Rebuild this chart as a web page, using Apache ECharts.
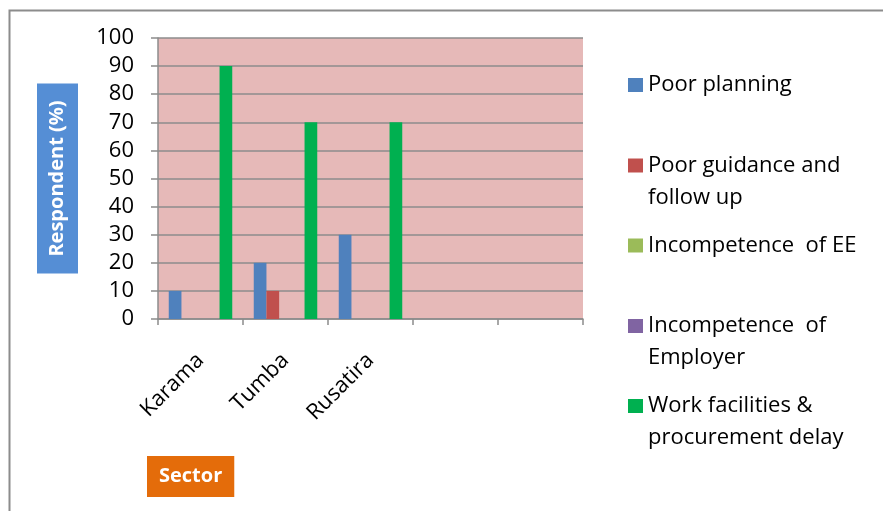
<!DOCTYPE html>
<html>
<head>
<meta charset="utf-8">
<script src="https://cdn.jsdelivr.net/npm/echarts@6/dist/echarts.min.js"></script>
<style>html,body{margin:0;padding:0;background:#fff}#c{width:883px;height:511px}</style>
</head>
<body>
<div id="c"></div>
<script>
const categories = ['Karama', 'Tumba', 'Rusatira', '', ''];
const seriesNames = ['Poor planning', 'Poor guidance and follow up', 'Incompetence  of EE', 'Incompetence  of Employer', 'Work facilities & procurement delay'];
const poorPlanning = [10, 20, 30, 0, 0];
const poorGuidance = [0, 10, 0, 0, 0];
const incompetenceEE = [0, 0, 0, 0, 0];
const incompetenceEmployer = [0, 0, 0, 0, 0];
const workFacilities = [90, 70, 70, 0, 0];
const yTicks = [0, 10, 20, 30, 40, 50, 60, 70, 80, 90, 100];
const legendLines = {
  'Poor planning': 'Poor planning',
  'Poor guidance and follow up': '\nPoor guidance and\nfollow up',
  'Incompetence  of EE': 'Incompetence  of EE',
  'Incompetence  of Employer': '\nIncompetence  of\nEmployer',
  'Work facilities & procurement delay': '\nWork facilities &\nprocurement delay'
};

const colors = ['#4F81BD', '#C0504D', '#9BBB59', '#8064A2', '#00B050'];
const values = [poorPlanning, poorGuidance, incompetenceEE, incompetenceEmployer, workFacilities];
const legendTops = [69, 117.5, 229.5, 278, 358];
const FONT = '"Open Sans", "Noto Sans", sans-serif';

const chart = echarts.init(document.getElementById('c'), null, {renderer: 'canvas'});
const option = {
  animation: false,
  color: colors,
  textStyle: {fontFamily: FONT},
  grid: {left: 158, top: 38, width: 425, height: 281, containLabel: false,
         show: true, backgroundColor: '#E6B9B8', borderWidth: 0},
  xAxis: {
    type: 'category',
    data: categories,
    axisLine: {lineStyle: {color: '#8C8C8C', width: 1.5}},
    axisTick: {show: true, alignWithLabel: false, interval: 0, length: 6, lineStyle: {color: '#8C8C8C', width: 1.5}},
    axisLabel: {interval: 0, rotate: 45, margin: 38, fontSize: 22, color: '#000', fontFamily: FONT}
  },
  yAxis: {
    type: 'value',
    min: yTicks[0], max: yTicks[yTicks.length - 1], interval: 10,
    name: 'Respondent (%)',
    nameLocation: 'middle',
    nameRotate: 90,
    nameGap: 80,
    nameTextStyle: {fontSize: 20, fontWeight: 'bold', color: '#fff', fontFamily: FONT,
      backgroundColor: '#558ED5', padding: [9, 17, 9, 17], lineHeight: 23},
    axisLine: {show: true, lineStyle: {color: '#8C8C8C', width: 1.5}},
    axisTick: {show: true, length: 7, lineStyle: {color: '#8C8C8C', width: 1.5}},
    axisLabel: {fontSize: 22, color: '#000', margin: 24, fontFamily: FONT},
    splitLine: {show: true, lineStyle: {color: '#8C8C8C', width: 1.5}}
  },
  legend: seriesNames.map((n, i) => ({
    data: [n],
    orient: 'vertical',
    left: 628,
    top: legendTops[i],
    padding: 0,
    itemWidth: 15,
    itemHeight: 14,
    icon: 'rect',
    selectedMode: false,
    formatter: name => legendLines[name],
    textStyle: {fontSize: 22, color: '#000', lineHeight: 32, fontFamily: FONT}
  })),
  series: seriesNames.map((n, i) => ({
    name: n,
    type: 'bar',
    data: values[i],
    barWidth: 12.7,
    barGap: '0%',
    barCategoryGap: '25%',
    itemStyle: {color: colors[i]}
  })),
  graphic: [
    {type: 'rect', left: 7, top: 8, shape: {x: 0, y: 0, width: 900, height: 520},
     style: {fill: 'none', stroke: '#8C8C8C', lineWidth: 2}, silent: true, z: -10},
    {type: 'text', left: 147, top: 456,
     style: {text: 'Sector', font: 'bold 20px ' + FONT, fill: '#fff',
       backgroundColor: '#E46C0A', padding: [8, 12, 8, 12], lineHeight: 25}}
  ]
};
chart.setOption(option);
</script>
</body>
</html>
